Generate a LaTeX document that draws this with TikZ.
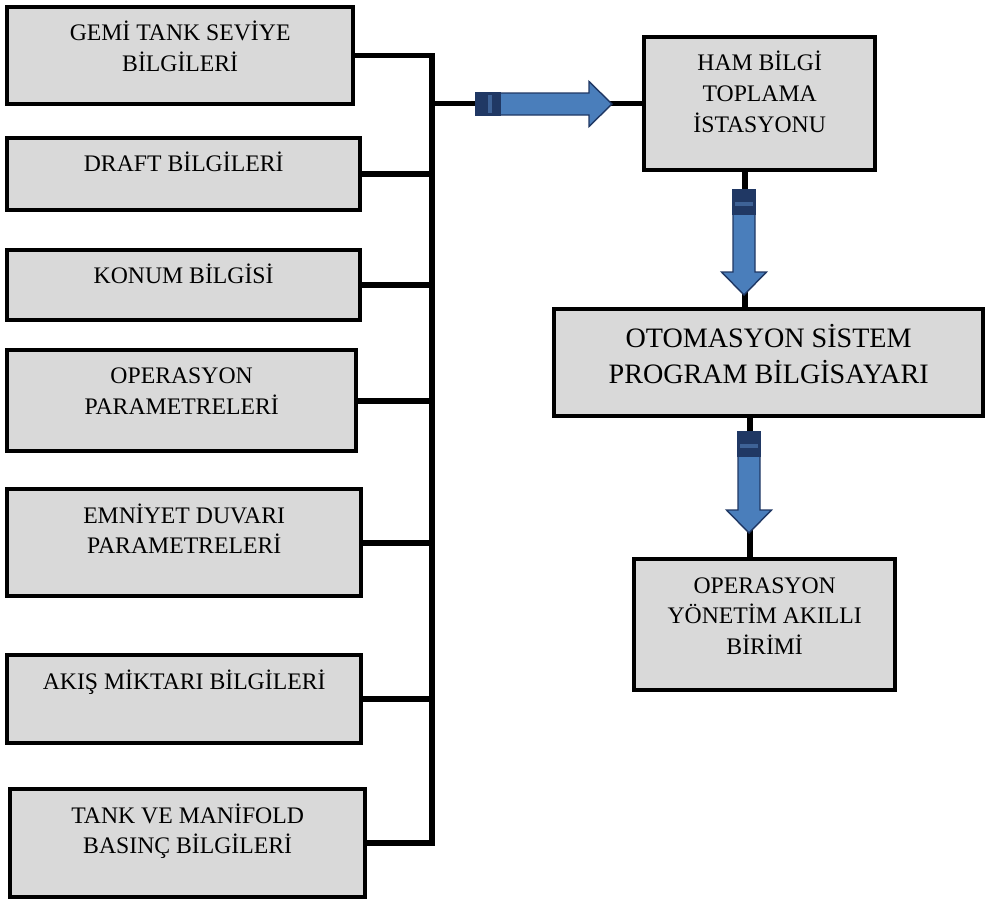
\documentclass[tikz,border=0pt]{standalone}
\usepackage{fontspec}
\setmainfont{Liberation Serif}
\usetikzlibrary{calc}
\definecolor{boxgray}{RGB}{217,217,217}
\definecolor{arrowblue}{RGB}{74,126,187}
\definecolor{arrowdark}{RGB}{32,56,100}
\definecolor{arrowmid}{RGB}{62,98,150}
\def\flowarrow(#1)(#2:#3){%
	\begin{scope}[shift={(#1)}, rotate=#2]
		\draw[line width=0.8pt, draw=arrowdark, fill=arrowblue] (0,-11) -- (#3-23,-11) -- (#3-23,-22.5) -- (#3,0) -- (#3-23,22.5) -- (#3-23,11) -- (0,11) -- cycle;
		\draw[line width=0.8pt, draw=arrowdark, fill=arrowdark] (0,-11) rectangle (24,11);
		\fill[arrowmid] (12,-9) rectangle (16,9);
	\end{scope}}

\begin{document}
\begin{tikzpicture}[x=0.02cm, y=-0.02cm,
	infobox/.style={draw, fill=boxgray, line width=2.5pt, anchor=north west, inner sep=0pt},
	lbl/.style={anchor=north, align=center, inner sep=0pt, font=\fontsize{13.5}{17.6}\selectfont},
	biglbl/.style={lbl, font=\fontsize{16}{20.4}\selectfont},
	conn/.style={line width=3.2pt}]
			%%%%% START %%%%%
			
			\useasboundingbox (0,0) rectangle (988,903);
			
			% left column
			\node[infobox, minimum width=6.92cm, minimum height=1.94cm] (seviye) at (5,5) {};
			\node[lbl] (seviyet) at ([yshift=-0.28cm]seviye.north) {\strut GEMİ TANK SEVİYE\\BİLGİLERİ};
			
			\node[infobox, minimum width=7.06cm, minimum height=1.44cm] (draft) at (5,136) {};
			\node[lbl] (draftt) at ([yshift=-0.28cm]draft.north) {\strut DRAFT BİLGİLERİ};
			
			\node[infobox, minimum width=7.06cm, minimum height=1.40cm] (konum) at (5,248) {};
			\node[lbl] (konumt) at ([yshift=-0.28cm]konum.north) {\strut KONUM BİLGİSİ};
			
			\node[infobox, minimum width=6.98cm, minimum height=2.02cm] (opparam) at (5,348) {};
			\node[lbl] (opparamt) at ([yshift=-0.28cm]opparam.north) {\strut OPERASYON\\PARAMETRELERİ};
			
			\node[infobox, minimum width=7.08cm, minimum height=2.14cm] (emniyet) at (5,487) {};
			\node[lbl] (emniyett) at ([yshift=-0.28cm]emniyet.north) {\strut EMNİYET DUVARI\\PARAMETRELERİ};
			
			\node[infobox, minimum width=7.08cm, minimum height=1.76cm] (akis) at (5,653) {};
			\node[lbl] (akist) at ([yshift=-0.28cm]akis.north) {\strut AKIŞ MİKTARI BİLGİLERİ};
			
			\node[infobox, minimum width=7.10cm, minimum height=2.16cm] (basinc) at (8,787) {};
			\node[lbl] (basinct) at ([yshift=-0.28cm]basinc.north) {\strut TANK VE MANİFOLD\\BASINÇ BİLGİLERİ};
			
			% right column
			\node[infobox, minimum width=4.62cm, minimum height=2.66cm] (ham) at (642,35) {};
			\node[lbl] (hamt) at ([yshift=-0.28cm]ham.north) {\strut HAM BİLGİ\\TOPLAMA\\İSTASYONU};
			
			\node[infobox, minimum width=8.58cm, minimum height=2.14cm] (otomasyon) at (552,307) {};
			\node[biglbl] (otomasyont) at ([yshift=-0.30cm]otomasyon.north) {\strut OTOMASYON SİSTEM\\PROGRAM BİLGİSAYARI};
			
			\node[infobox, minimum width=5.22cm, minimum height=2.62cm] (yonetim) at (632,557) {};
			\node[lbl] (yonetimt) at ([yshift=-0.28cm]yonetim.north) {\strut OPERASYON\\YÖNETİM AKILLI\\BİRİMİ};
			
			% bus and lines
			\coordinate (bus) at (432,0);
			\coordinate (drop1) at (745,0);
			\coordinate (drop2) at (750,0);
			
			\draw[conn] (seviye.east) -- (seviye.east -| bus) |- (basinc.east);
			\foreach \b in {draft,konum,opparam,emniyet,akis}
				\draw[conn] (\b.east) -- (\b.east -| bus);
			\draw[conn] (ham.west -| bus) -- (ham.west);
			\draw[conn] (ham.south -| drop1) -- (otomasyon.north -| drop1);
			\draw[conn] (otomasyon.south -| drop2) -- (yonetim.north -| drop2);
			
			% blue arrows
			\flowarrow(476,104)(0:136)
			\flowarrow(744,190)(-90:105)
			\flowarrow(749,432)(-90:101)
			
			%%%%% END %%%%%
\end{tikzpicture}
\end{document}
